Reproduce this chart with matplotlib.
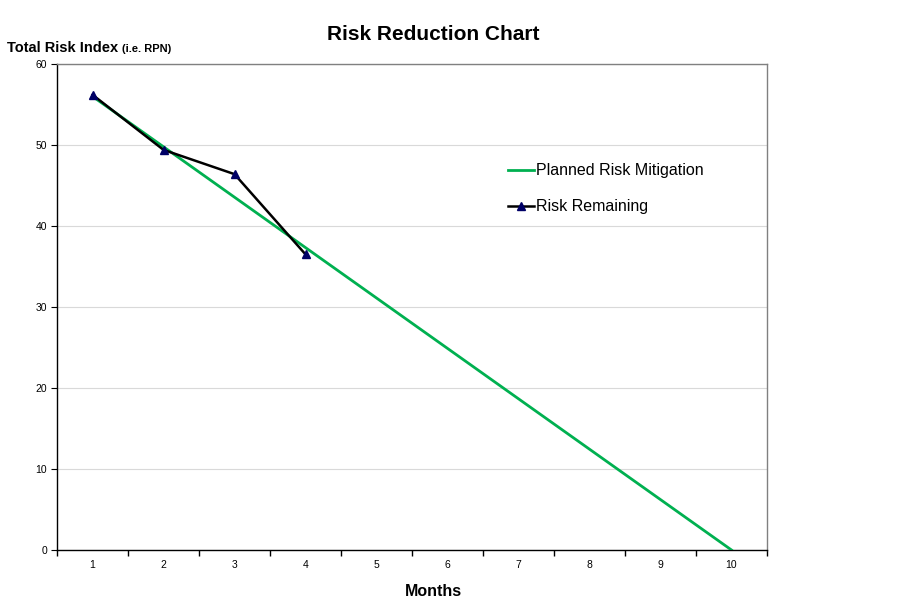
import numpy as np
from matplotlib import pyplot as plt

# data
months = [1, 2, 3, 4, 5, 6, 7, 8, 9, 10]
planned_x = [1, 10]
planned_y = [56, 0]
remaining_x = [1, 2, 3, 4]
remaining_y = [56.2, 49.4, 46.4, 36.5]

plt.rcParams['font.family'] = ['Liberation Sans', 'DejaVu Sans']

fig = plt.figure(figsize=(9.01, 6.13), dpi=100)
ax = fig.add_axes([57/901, 1-550/613, (767-57)/901, (550-64)/613])

ax.plot(planned_x, planned_y, color='#00b050', lw=2, label='Planned Risk Mitigation', zorder=3)
ax.plot(remaining_x, remaining_y, color='black', lw=1.8, marker='^', ms=6,
        mfc='#000066', mec='#000066', label='Risk Remaining', zorder=4)

ax.set_xlim(0.5, 10.5)
ax.set_ylim(0, 60)
ax.set_yticks(np.arange(0, 61, 10))
ax.yaxis.grid(True, color='#d9d9d9', lw=0.8)
ax.set_axisbelow(True)

# category ticks between months, labels centred
ax.set_xticks(np.arange(0.5, 11, 1))
ax.set_xticklabels([])
ax.set_xticks(months, minor=True)
ax.set_xticklabels([str(m) for m in months], minor=True, fontsize=7.5)
ax.tick_params(axis='x', which='minor', length=0, pad=7)
ax.tick_params(axis='x', which='major', length=4, direction='out', width=1)
ax.tick_params(axis='y', length=4, direction='out', labelsize=7.5, pad=3)

ax.spines['left'].set_color('black')
ax.spines['bottom'].set_color('black')
ax.spines['top'].set_color('#808080')
ax.spines['right'].set_color('#808080')
for s in ax.spines.values():
    s.set_linewidth(1)

leg = ax.legend(loc='upper left', bbox_to_anchor=(0.615, 0.825), frameon=False,
                fontsize=11.5, handlelength=1.6, handletextpad=0.15, labelspacing=1.3)

fig.text(433/901, 1-34/613, 'Risk Reduction Chart', fontsize=15, fontweight='bold',
         ha='center', va='center')
fig.text(7/901, 1-52/613, 'Total Risk Index', fontsize=10.5, fontweight='bold',
         ha='left', va='baseline')
fig.text(122/901, 1-52/613, '(i.e. RPN)', fontsize=8, fontweight='bold',
         ha='left', va='baseline')
fig.text(433/901, 1-592/613, 'Months', fontsize=11.5, fontweight='bold',
         ha='center', va='center')

plt.savefig('out.png', dpi=100)
